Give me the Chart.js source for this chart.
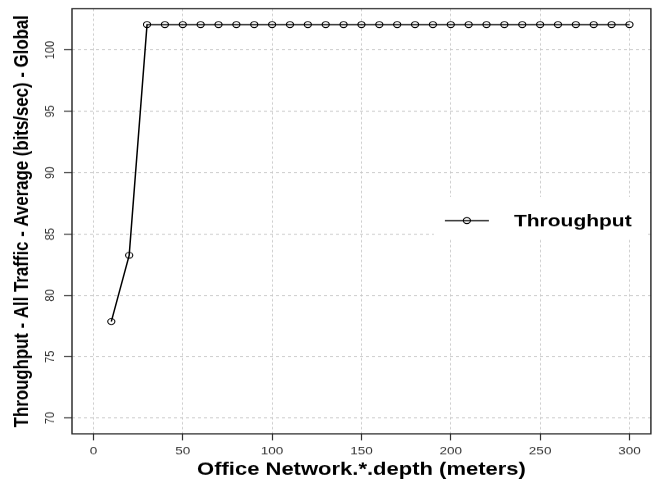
<!DOCTYPE html>
<html>
<head>
<meta charset="utf-8">
<script src="https://cdn.jsdelivr.net/npm/chart.js@4.4.1/dist/chart.umd.min.js"></script>
<style>
  html, body { margin: 0; padding: 0; background: #fff; overflow: hidden; }
  #plot { display: block; }
</style>
</head>
<body>
<!-- drawn on a taller bitmap and shown squeezed to 483px high -->
<canvas id="plot" width="656" height="589" style="width:656px;height:483px"></canvas>
<script>
// Office network depth sweep (meters)
const depthMeters = [10, 20, 30, 40, 50, 60, 70, 80, 90, 100,
                     110, 120, 130, 140, 150, 160, 170, 180, 190, 200,
                     210, 220, 230, 240, 250, 260, 270, 280, 290, 300];
// Global average throughput, all traffic (bits/sec)
const throughputBps = [77.87, 83.27, 102.07, 102.07, 102.07, 102.07, 102.07, 102.07, 102.07, 102.07,
                       102.07, 102.07, 102.07, 102.07, 102.07, 102.07, 102.07, 102.07, 102.07, 102.07,
                       102.07, 102.07, 102.07, 102.07, 102.07, 102.07, 102.07, 102.07, 102.07, 102.07];
const xTickValues = [0, 50, 100, 150, 200, 250, 300];
const yTickValues = [70, 75, 80, 85, 90, 95, 100];
const seriesName = 'Throughput';
const xTitle = 'Office Network.*.depth (meters)';
const yTitle = 'Throughput - All Traffic - Average (bits/sec) - Global';

const FONT = "'Liberation Sans', Arial, Helvetica, sans-serif";
Chart.defaults.font.family = FONT;

const points = depthMeters.map((d, i) => ({ x: d, y: throughputBps[i] }));

const whiteBackground = {
  id: 'whiteBackground',
  beforeDraw(chart) {
    const { ctx, width, height } = chart;
    ctx.save();
    ctx.fillStyle = '#ffffff';
    ctx.fillRect(0, 0, width, height);
    ctx.restore();
  }
};

// legend placed inside the plot, right of centre
const insetLegend = {
  id: 'insetLegend',
  afterDatasetsDraw(chart) {
    const { ctx, chartArea } = chart;
    const ds = chart.data.datasets[0];
    const boxL = chartArea.right - 217, boxT = 240, boxW = 212, boxH = 52;
    const cy = boxT + 29;
    ctx.save();
    ctx.fillStyle = '#ffffff';
    ctx.fillRect(boxL, boxT, boxW, boxH);
    ctx.strokeStyle = ds.borderColor;
    ctx.lineWidth = ds.borderWidth;
    ctx.beginPath();
    ctx.moveTo(boxL + 11, cy);
    ctx.lineTo(boxL + 55, cy);
    ctx.stroke();
    ctx.lineWidth = ds.pointBorderWidth;
    ctx.beginPath();
    ctx.arc(boxL + 33, cy, ds.pointRadius, 0, Math.PI * 2);
    ctx.stroke();
    ctx.fillStyle = '#000000';
    ctx.font = 'bold 21px ' + FONT;
    ctx.textAlign = 'left';
    ctx.textBaseline = 'middle';
    ctx.fillText(ds.label, boxL + 80, cy + 1);
    ctx.restore();
  }
};

// full box round the plotting region
const plotFrame = {
  id: 'plotFrame',
  afterDraw(chart) {
    const { ctx, chartArea: a } = chart;
    ctx.save();
    ctx.strokeStyle = '#222222';
    ctx.lineWidth = 1.4;
    ctx.strokeRect(a.left, a.top, a.right - a.left, a.bottom - a.top);
    ctx.restore();
  }
};

new Chart(document.getElementById('plot'), {
  type: 'line',
  data: {
    datasets: [{
      label: seriesName,
      data: points,
      borderColor: '#000000',
      borderWidth: 1.5,
      tension: 0,
      pointStyle: 'circle',
      pointRadius: 3.6,
      pointBorderWidth: 1.1,
      pointBorderColor: '#000000',
      pointBackgroundColor: 'rgba(0,0,0,0)'
    }]
  },
  options: {
    responsive: false,
    animation: false,
    events: [],
    layout: { padding: { top: 7, right: 5, bottom: 0, left: 0 } },
    plugins: { legend: { display: false }, tooltip: { enabled: false } },
    scales: {
      x: {
        type: 'linear',
        min: -12,
        max: 312,
        afterBuildTicks: s => { s.ticks = xTickValues.map(v => ({ value: v })); },
        afterFit: s => { s.height = 60; },
        grid: { color: '#cfcfcf', lineWidth: 1, drawTicks: true, tickLength: 8, tickColor: '#333333', tickWidth: 1.2 },
        border: { display: false, dash: [3, 3] },
        ticks: { color: '#333333', font: { size: 13.5 }, padding: 5, maxRotation: 0, autoSkip: false },
        title: { display: true, text: xTitle, color: '#000000', font: { size: 22, weight: 'bold' }, padding: { top: 0, bottom: 3 } }
      },
      y: {
        type: 'linear',
        min: 68.72,
        max: 103.37,
        afterBuildTicks: s => { s.ticks = yTickValues.map(v => ({ value: v })); },
        afterFit: s => { s.width = 72; },
        grid: { color: '#c8c8c8', lineWidth: 1.1, drawTicks: true, tickLength: 8, tickColor: '#333333', tickWidth: 1.3 },
        border: { display: false, dash: [3, 3] },
        ticks: { color: '#333333', font: { size: 13.5 }, padding: 2.5, minRotation: 90, maxRotation: 90, crossAlign: 'center', autoSkip: false },
        title: { display: true, text: yTitle, color: '#000000', font: { size: 20.5, weight: 'bold' }, padding: { top: 10, bottom: 0 } }
      }
    }
  },
  plugins: [whiteBackground, insetLegend, plotFrame]
});
</script>
</body>
</html>
